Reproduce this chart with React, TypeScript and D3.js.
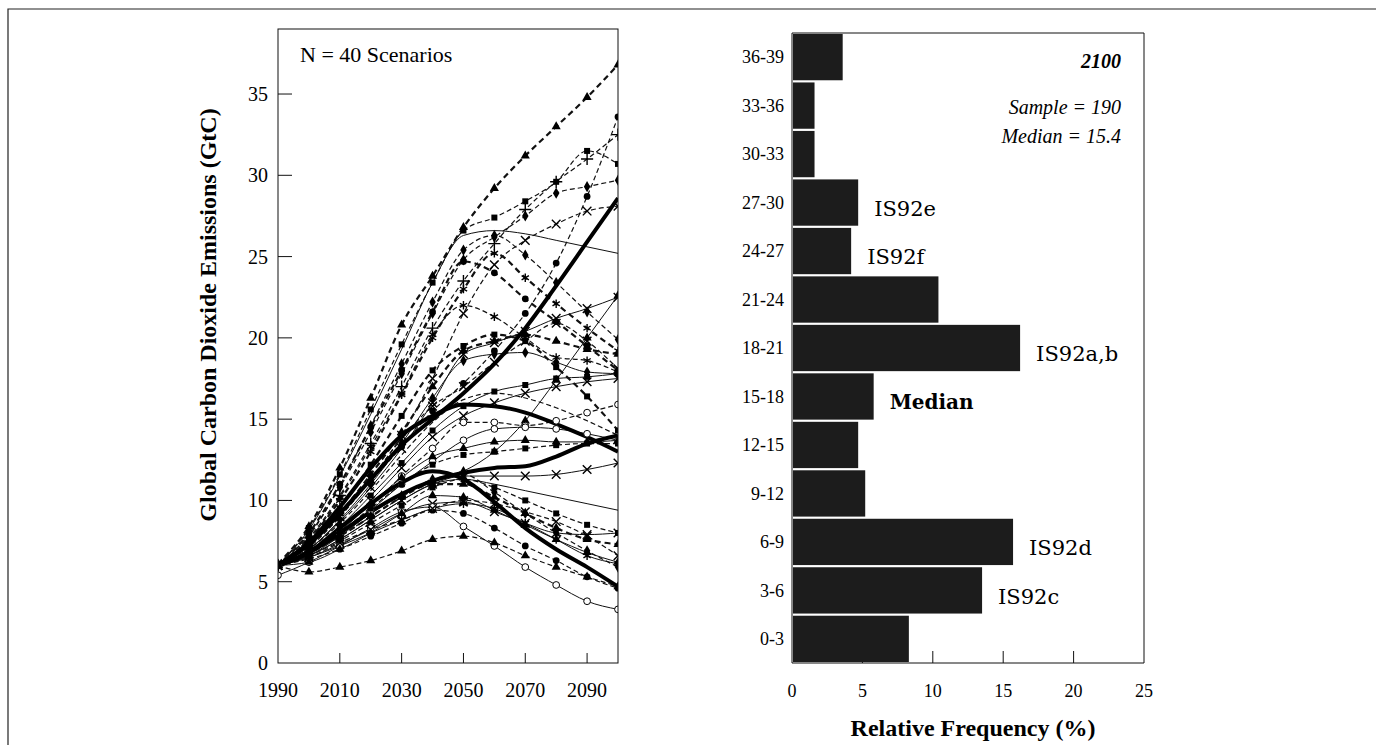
import { useEffect, useRef } from "react";
import * as d3 from "d3";

const W = 1376;
const H = 745;
const SERIF = "'Liberation Serif', 'Times New Roman', serif";
const WIDE_SERIF = "'DejaVu Serif', serif";

// ---- left panel: 40 emission scenarios, GtC by decade ----
const years = [1990, 2000, 2010, 2020, 2030, 2040, 2050, 2060, 2070, 2080, 2090, 2100];

// the bold IS92-type curves
const boldSeries: number[][] = [
  [6.0, 7.3, 9.2, 11.3, 13.4, 15.0, 16.6, 18.4, 20.6, 23.2, 25.9, 28.6],
  [6.0, 7.4, 9.6, 12.0, 14.0, 15.2, 15.9, 15.8, 15.4, 14.7, 13.9, 13.0],
  [6.0, 6.8, 8.0, 9.3, 10.4, 11.2, 11.7, 12.0, 12.1, 12.7, 13.5, 14.0],
  [6.0, 6.8, 8.3, 9.8, 11.1, 11.8, 11.3, 9.9, 8.3, 7.0, 5.9, 4.7],
];

const scenarioSeries: number[][] = [
  [6.1, 8.4, 12.0, 16.3, 20.8, 23.8, 26.8, 29.2, 31.2, 33.0, 34.8, 36.8],
  [6.0, 8.3, 11.6, 15.6, 19.6, 23.4, 26.6, 27.4, 28.4, 29.6, 31.5, 30.7],
  [6.0, 7.9, 10.8, 14.2, 17.8, 21.5, 24.8, 26.2, 27.5, 28.9, 29.3, 29.7],
  [6.0, 7.7, 10.3, 13.5, 17.0, 20.6, 23.5, 25.8, 27.9, 29.6, 31.0, 32.5],
  [6.0, 7.5, 9.3, 11.2, 13.3, 15.5, 17.2, 19.2, 21.5, 24.6, 28.7, 33.6],
  [6.0, 8.2, 11.5, 15.3, 19.3, 23.4, 26.3, 26.6, 26.4, 26.0, 25.6, 25.2],
  [6.0, 8.0, 11.0, 14.5, 18.0, 21.6, 24.7, 24.0, 22.4, 21.0, 19.5, 18.0],
  [6.0, 7.6, 10.0, 13.0, 16.5, 20.0, 23.0, 25.2, 23.7, 22.1, 20.6, 19.2],
  [6.0, 7.2, 9.0, 11.3, 14.0, 17.5, 21.5, 24.5, 26.0, 27.0, 27.8, 28.1],
  [6.0, 7.0, 8.7, 10.8, 13.2, 16.0, 19.0, 19.7, 20.4, 21.2, 21.8, 22.5],
  [6.0, 6.6, 7.8, 9.2, 10.3, 11.2, 11.8, 13.0, 14.9, 17.4, 20.0, 22.6],
  [6.0, 7.2, 9.2, 11.6, 14.2, 17.0, 19.2, 19.8, 20.2, 19.8, 19.3, 19.0],
  [6.0, 7.0, 8.8, 11.0, 13.5, 16.3, 18.6, 19.0, 19.1, 18.5, 17.9, 17.8],
  [6.0, 6.9, 8.4, 10.3, 12.3, 14.3, 15.8, 16.7, 17.1, 17.5, 17.6, 17.8],
  [6.0, 6.9, 8.3, 10.0, 12.0, 13.9, 15.2, 16.0, 16.6, 17.0, 17.3, 17.5],
  [6.0, 6.8, 8.0, 9.6, 11.5, 13.2, 14.8, 14.8, 14.6, 14.9, 15.4, 15.9],
  [6.0, 6.7, 7.9, 9.4, 11.0, 12.4, 13.7, 14.4, 14.5, 14.4, 14.1, 13.7],
  [6.0, 7.3, 9.5, 12.2, 15.2, 18.0, 19.5, 20.2, 19.8, 18.2, 16.4, 14.3],
  [6.0, 7.1, 9.0, 11.3, 13.8, 15.8, 17.0, 18.5, 19.8, 20.9, 19.8, 18.1],
  [6.0, 6.6, 7.6, 8.8, 10.0, 11.0, 11.5, 11.5, 11.5, 11.6, 11.9, 12.3],
  [6.0, 6.8, 8.0, 9.5, 11.0, 12.2, 12.8, 13.0, 13.2, 13.4, 13.5, 13.5],
  [6.0, 6.9, 8.1, 9.8, 11.4, 12.7, 13.2, 13.6, 13.7, 13.6, 13.6, 13.7],
  [6.0, 6.6, 7.6, 8.8, 10.0, 11.0, 11.3, 11.0, 10.6, 10.2, 9.8, 9.4],
  [6.0, 6.6, 7.5, 8.6, 9.7, 10.8, 11.3, 10.8, 10.0, 9.2, 8.5, 8.0],
  [6.0, 6.5, 7.3, 8.2, 9.2, 9.8, 9.9, 9.3, 8.6, 8.0, 7.9, 8.0],
  [6.0, 6.8, 7.8, 9.0, 10.2, 11.0, 11.0, 10.2, 9.2, 8.3, 7.6, 7.3],
  [6.0, 6.5, 7.2, 8.0, 8.8, 9.5, 9.8, 9.5, 8.6, 7.6, 6.6, 6.1],
  [6.0, 6.4, 7.0, 7.8, 8.6, 9.4, 9.2, 8.3, 7.2, 6.3, 5.3, 4.6],
  [5.4, 6.2, 7.2, 8.3, 9.3, 9.6, 8.4, 7.2, 5.9, 4.8, 3.8, 3.3],
  [6.0, 5.6, 5.9, 6.3, 6.9, 7.6, 7.8, 7.4, 6.6, 5.9, 5.3, 4.7],
  [6.0, 6.2, 7.0, 8.0, 9.2, 10.3, 10.2, 9.4, 8.5, 7.6, 6.8, 6.2],
  [6.0, 6.7, 7.8, 9.0, 10.2, 11.3, 11.6, 10.5, 9.2, 8.0, 6.9, 5.9],
  [6.0, 6.5, 7.4, 8.2, 8.8, 9.5, 10.0, 9.8, 9.3, 8.7, 7.8, 6.6],
  [6.0, 7.6, 10.2, 13.3, 16.6, 20.2, 22.0, 21.3, 20.0, 18.8, 18.6, 17.9],
  [6.0, 7.0, 8.6, 10.6, 12.8, 14.8, 16.2, 16.6, 16.3, 15.7, 14.9, 14.0],
  [6.0, 7.8, 10.9, 14.6, 18.4, 22.2, 25.4, 26.3, 25.1, 23.4, 21.6, 19.9],
];

// line kind and marker for each scenario above, same order
const scenarioLine = [
  "dashBold", "dash", "dash", "dash", "dash", "solid", "dashBold", "dashBold", "dash", "solid",
  "solid", "dashBold", "solid", "solid", "solid", "dash", "solid", "dashBold", "dash", "solid",
  "dash", "solid", "solid", "dash", "solid", "dashBold", "solid", "dash", "solid", "dash",
  "solid", "dash", "dash", "dash", "dash", "dash",
];
const scenarioMarker = [
  "triangle", "square", "diamond", "plus", "circle", "none", "circle", "asterisk", "times", "times",
  "triangle", "triangle", "diamond", "square", "times", "open", "open", "square", "times", "times",
  "square", "triangle", "none", "square", "times", "triangle", "asterisk", "circle", "open", "triangle",
  "triangle", "diamond", "times", "asterisk", "none", "diamond",
];

const yTicks = [0, 5, 10, 15, 20, 25, 30, 35];
const xTickLabels = [1990, 2010, 2030, 2050, 2070, 2090];
const xTickMarks = [2010, 2030, 2050, 2070, 2090];

// ---- right panel: histogram of 2100 emissions ----
const bins = ["0-3", "3-6", "6-9", "9-12", "12-15", "15-18", "18-21", "21-24", "24-27", "27-30", "30-33", "33-36", "36-39"];
const binFreq = [8.3, 13.5, 15.7, 5.2, 4.7, 5.8, 16.2, 10.4, 4.2, 4.7, 1.6, 1.6, 3.6];
const binNotes = [
  { bin: "27-30", text: "IS92e", bold: false },
  { bin: "24-27", text: "IS92f", bold: false },
  { bin: "18-21", text: "IS92a,b", bold: false },
  { bin: "15-18", text: "Median", bold: true },
  { bin: "6-9", text: "IS92d", bold: false },
  { bin: "3-6", text: "IS92c", bold: false },
];
const freqTicks = [0, 5, 10, 15, 20, 25];

const symbolFor: Record<string, d3.SymbolType> = {
  circle: d3.symbolCircle,
  open: d3.symbolCircle,
  square: d3.symbolSquare,
  triangle: d3.symbolTriangle,
  diamond: d3.symbolDiamond,
  plus: d3.symbolPlus,
  times: d3.symbolTimes,
  asterisk: d3.symbolAsterisk,
};

export default function App() {
  const svgRef = useRef<SVGSVGElement>(null);

  useEffect(() => {
    if (!svgRef.current) return;
    const svg = d3.select(svgRef.current);
    svg.selectAll("*").remove();

    // outer frame (scan border)
    svg.append("path")
      .attr("d", `M8,${H}V9H${W}`)
      .attr("fill", "none")
      .attr("stroke", "#222")
      .attr("stroke-width", 1.2);

    // ================= LEFT PANEL =================
    const L = { left: 278, right: 618, top: 29, bottom: 663 };
    const x = d3.scaleLinear().domain([1990, 2100]).range([L.left, L.right]);
    const y = d3.scaleLinear().domain([0, 39]).range([L.bottom, L.top]);

    const left = svg.append("g");

    left.append("defs").append("clipPath").attr("id", "plotclip")
      .append("rect")
      .attr("x", L.left).attr("y", L.top)
      .attr("width", L.right - L.left).attr("height", L.bottom - L.top);

    const line = d3.line<number>()
      .x((_, i) => x(years[i]))
      .y((d) => y(d))
      .curve(d3.curveMonotoneX);

    const lines = left.append("g").attr("clip-path", "url(#plotclip)");

    scenarioSeries.forEach((vals, i) => {
      const kind = scenarioLine[i];
      lines.append("path")
        .attr("d", line(vals))
        .attr("fill", "none")
        .attr("stroke", "#111")
        .attr("stroke-width", kind === "dashBold" ? 2.2 : kind === "dash" ? 1.2 : 1)
        .attr("stroke-dasharray", kind === "dashBold" ? "6,4" : kind === "dash" ? "5,3" : null);
    });

    boldSeries.forEach((vals) => {
      lines.append("path")
        .attr("d", line(vals))
        .attr("fill", "none")
        .attr("stroke", "#000")
        .attr("stroke-width", 4);
    });

    // markers at each decade
    scenarioSeries.forEach((vals, i) => {
      const m = scenarioMarker[i];
      if (m === "none") return;
      const stroked = m === "plus" || m === "times" || m === "asterisk";
      const sym = d3.symbol(symbolFor[m], stroked ? 50 : m === "open" ? 36 : 36);
      lines.selectAll(null)
        .data(vals)
        .join("path")
        .attr("transform", (d, j) => `translate(${x(years[j])},${y(d)})`)
        .attr("d", sym)
        .attr("fill", stroked ? "none" : m === "open" ? "#fff" : "#000")
        .attr("stroke", "#000")
        .attr("stroke-width", stroked ? 1.4 : m === "open" ? 1 : 0);
    });

    // frame
    left.append("rect")
      .attr("x", L.left).attr("y", L.top)
      .attr("width", L.right - L.left).attr("height", L.bottom - L.top)
      .attr("fill", "none")
      .attr("stroke", "#111")
      .attr("stroke-width", 1);

    // y ticks (inward) and labels
    left.selectAll(null)
      .data(yTicks.filter((t) => t > 0))
      .join("line")
      .attr("x1", L.left).attr("x2", L.left + 14)
      .attr("y1", (d) => y(d)).attr("y2", (d) => y(d))
      .attr("stroke", "#111");
    left.selectAll(null)
      .data(yTicks)
      .join("text")
      .attr("x", L.left - 10)
      .attr("y", (d) => y(d))
      .attr("dy", "0.35em")
      .attr("text-anchor", "end")
      .attr("font-family", SERIF)
      .attr("font-size", 20)
      .text((d) => d);

    // x ticks (upward) and labels
    left.selectAll(null)
      .data(xTickMarks)
      .join("line")
      .attr("x1", (d) => x(d)).attr("x2", (d) => x(d))
      .attr("y1", L.bottom).attr("y2", L.bottom - 10)
      .attr("stroke", "#111");
    left.selectAll(null)
      .data(xTickLabels)
      .join("text")
      .attr("x", (d) => x(d))
      .attr("y", 697)
      .attr("text-anchor", "middle")
      .attr("font-family", SERIF)
      .attr("font-size", 20)
      .text((d) => d);

    left.append("text")
      .attr("x", 300).attr("y", 62)
      .attr("font-family", SERIF)
      .attr("font-size", 22)
      .text("N = 40 Scenarios");

    left.append("text")
      .attr("transform", `translate(208,315) rotate(-90)`)
      .attr("dy", "0.35em")
      .attr("text-anchor", "middle")
      .attr("font-family", SERIF)
      .attr("font-weight", "bold")
      .attr("font-size", 24)
      .text("Global Carbon Dioxide Emissions (GtC)");

    // ================= RIGHT PANEL =================
    const R = { left: 792, right: 1144, top: 33, bottom: 663 };
    const fx = d3.scaleLinear().domain([0, 25]).range([R.left, R.right]);
    const by = d3.scaleBand<string>()
      .domain([...bins].reverse())
      .range([R.top, R.bottom])
      .paddingInner(0.045)
      .paddingOuter(0.02);

    const right = svg.append("g");

    right.append("path")
      .attr("d", `M${R.left},${R.top}H${R.right}V${R.bottom}H${R.left}Z`)
      .attr("fill", "none")
      .attr("stroke", "#111")
      .attr("stroke-width", 1);

    right.selectAll(null)
      .data(freqTicks.filter((t) => t > 0 && t < 25))
      .join("line")
      .attr("x1", (d) => fx(d)).attr("x2", (d) => fx(d))
      .attr("y1", R.bottom).attr("y2", R.bottom - 12)
      .attr("stroke", "#111");

    right.selectAll(null)
      .data(bins)
      .join("rect")
      .attr("x", fx(0) + 1)
      .attr("y", (d) => by(d)!)
      .attr("width", (d, i) => fx(binFreq[i]) - fx(0) - 1)
      .attr("height", by.bandwidth())
      .attr("fill", "#1c1c1c");

    right.selectAll(null)
      .data(bins)
      .join("text")
      .attr("x", 784)
      .attr("y", (d) => by(d)! + by.bandwidth() / 2)
      .attr("dy", "0.35em")
      .attr("text-anchor", "end")
      .attr("font-family", SERIF)
      .attr("font-size", 18)
      .text((d) => d);

    right.selectAll(null)
      .data(freqTicks)
      .join("text")
      .attr("x", (d) => fx(d))
      .attr("y", 697)
      .attr("text-anchor", "middle")
      .attr("font-family", SERIF)
      .attr("font-size", 18)
      .text((d) => d);

    right.selectAll(null)
      .data(binNotes)
      .join("text")
      .attr("x", (d) => fx(binFreq[bins.indexOf(d.bin)]) + 16)
      .attr("y", (d) => by(d.bin)! + by.bandwidth() / 2 + 6)
      .attr("dy", "0.35em")
      .attr("font-family", WIDE_SERIF)
      .attr("font-weight", (d) => (d.bold ? "bold" : "normal"))
      .attr("font-size", (d) => (d.bold ? 20 : 21))
      .text((d) => d.text);

    right.append("text")
      .attr("x", 1121).attr("y", 68)
      .attr("text-anchor", "end")
      .attr("font-family", SERIF)
      .attr("font-weight", "bold")
      .attr("font-style", "italic")
      .attr("font-size", 20)
      .text("2100");
    right.append("text")
      .attr("x", 1121).attr("y", 114)
      .attr("text-anchor", "end")
      .attr("font-family", SERIF)
      .attr("font-style", "italic")
      .attr("font-size", 20)
      .text("Sample = 190");
    right.append("text")
      .attr("x", 1121).attr("y", 143)
      .attr("text-anchor", "end")
      .attr("font-family", SERIF)
      .attr("font-style", "italic")
      .attr("font-size", 20)
      .text("Median = 15.4");

    right.append("text")
      .attr("x", 973).attr("y", 736)
      .attr("text-anchor", "middle")
      .attr("font-family", SERIF)
      .attr("font-weight", "bold")
      .attr("font-size", 24)
      .text("Relative Frequency (%)");

    return () => {
      svg.selectAll("*").remove();
    };
  }, []);

  return (
    <svg
      ref={svgRef}
      width={W}
      height={H}
      style={{ position: "absolute", left: 0, top: 0, background: "#fff" }}
    />
  );
}
